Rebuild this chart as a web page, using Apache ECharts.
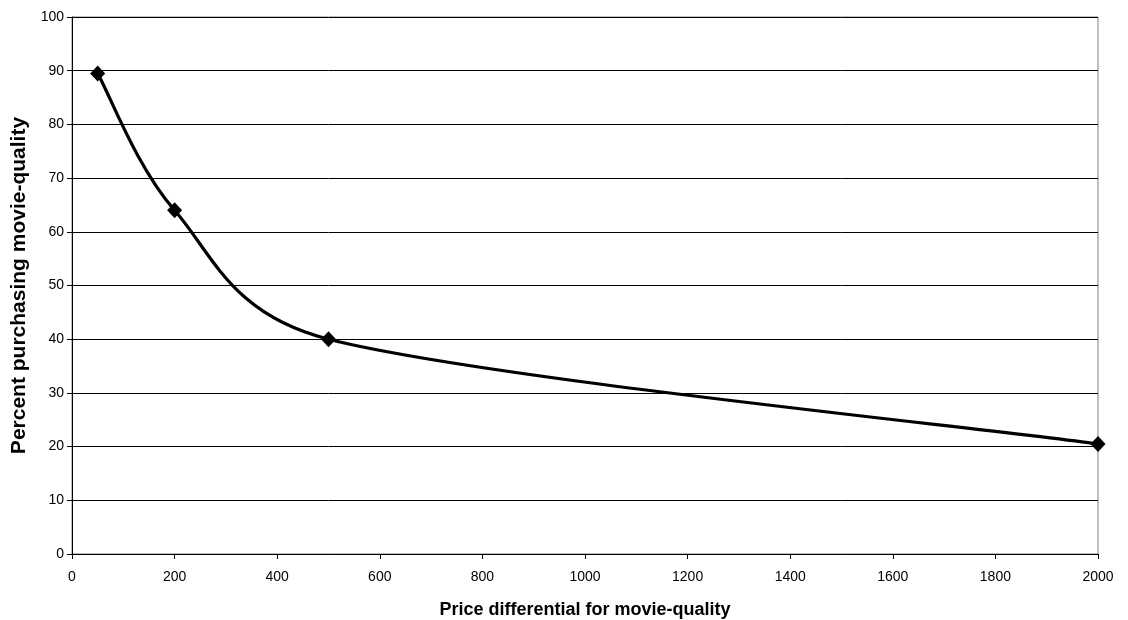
<!DOCTYPE html>
<html><head><meta charset="utf-8">
<script src="https://cdn.jsdelivr.net/npm/echarts@6/dist/echarts.min.js"></script>
<style>html,body{margin:0;padding:0;background:#fff}#c{width:1128px;height:620px}</style>
</head><body><div id="c"></div>
<script>
const priceDiff = [50, 200, 500, 2000];
const percentPurchasing = [89.5, 64, 40, 20.5];
const xTitle = 'Price differential for movie-quality';
const yTitle = 'Percent purchasing movie-quality';

const chart = echarts.init(document.getElementById('c'));
const font = 'Liberation Sans, Arial, sans-serif';
const pts = priceDiff.map((x, i) => [x, percentPurchasing[i]]);

// Excel-style smoothed segment between point i and i+1
function renderSegment(params, api) {
  const i = params.dataIndex;
  const n = pts.length;
  if (i >= n - 1) return null;
  const P = k => api.coord(pts[Math.max(0, Math.min(n - 1, k))]);
  const p0 = P(i - 1), p1 = P(i), p2 = P(i + 1), p3 = P(i + 2);
  const d = (a, b) => Math.hypot(b[0] - a[0], b[1] - a[1]);
  const d12 = d(p1, p2);
  const d02 = d(p0, p2), d13 = d(p1, p3);
  let f1 = 1 / 6, f2 = 1 / 6;
  if (d02 / 6 > d12 / 2) f1 = d12 / (2 * d02);
  if (d13 / 6 > d12 / 2) f2 = d12 / (2 * d13);
  const c1 = [p1[0] + (p2[0] - p0[0]) * f1, p1[1] + (p2[1] - p0[1]) * f1];
  const c2 = [p2[0] - (p3[0] - p1[0]) * f2, p2[1] - (p3[1] - p1[1]) * f2];
  return {
    type: 'bezierCurve',
    shape: { x1: p1[0], y1: p1[1], x2: p2[0], y2: p2[1], cpx1: c1[0], cpy1: c1[1], cpx2: c2[0], cpy2: c2[1] },
    style: { stroke: '#000', lineWidth: 3.2, fill: null }
  };
}

chart.setOption({
  animation: false,
  backgroundColor: '#fff',
  grid: { left: 72, right: 30, top: 17, bottom: 66, show: true, borderColor: '#808080', borderWidth: 1, outerBoundsMode: 'none', containLabel: false },
  xAxis: {
    type: 'value', min: 0, max: 2000, interval: 200,
    name: xTitle, nameLocation: 'middle', nameGap: 47,
    nameTextStyle: { fontFamily: font, fontSize: 18, fontWeight: 'bold', color: '#000' },
    axisLine: { lineStyle: { color: '#000', width: 1 } },
    axisTick: { show: true, length: 5, lineStyle: { color: '#000' } },
    axisLabel: { fontFamily: font, fontSize: 14, color: '#000', margin: 16, formatter: v => String(v) },
    splitLine: { show: false }
  },
  yAxis: {
    type: 'value', min: 0, max: 100, interval: 10,
    name: yTitle, nameLocation: 'middle', nameGap: 35, nameRotate: 90,
    nameTextStyle: { fontFamily: font, fontSize: 21, fontWeight: 'bold', color: '#000' },
    axisLine: { show: true, lineStyle: { color: '#000', width: 1 } },
    axisTick: { show: true, length: 5, lineStyle: { color: '#000' } },
    axisLabel: { fontFamily: font, fontSize: 14, color: '#000', margin: 8 },
    splitLine: { show: true, lineStyle: { color: '#000', width: 1 } }
  },
  series: [{
    type: 'custom',
    data: pts,
    renderItem: renderSegment,
    z: 2
  }, {
    type: 'scatter',
    data: pts,
    symbol: 'path://M0,-1 L1,0 L0,1 L-1,0 Z',
    symbolSize: [15, 16],
    itemStyle: { color: '#000', opacity: 1 },
    z: 3
  }]
});
</script></body></html>
